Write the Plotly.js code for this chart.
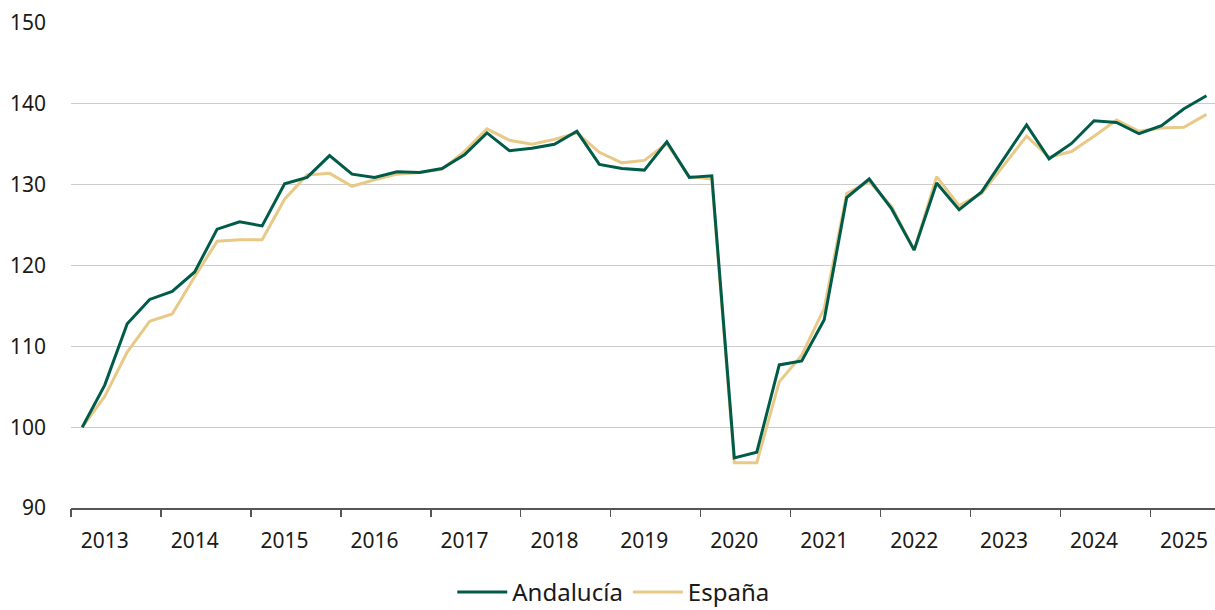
<!DOCTYPE html>
<html>
<head>
<meta charset="utf-8">
<script src="https://cdn.plot.ly/plotly-3.0.1.min.js"></script>
<style>html,body{margin:0;padding:0;background:#fff}#chart{width:1215px;height:610px}</style>
</head>
<body>
<div id="chart"></div>
<script>
// Quarterly index (2013 Q1 = 100), 2013 Q1 .. 2025 Q3
const startYear = 2013;
const years = [2013,2014,2015,2016,2017,2018,2019,2020,2021,2022,2023,2024,2025];
const yearLabels = years.map(String);
const andalucia = [
  100.0, 105.2, 112.8, 115.8,
  116.8, 119.2, 124.5, 125.4,
  124.9, 130.1, 130.9, 133.6,
  131.3, 130.9, 131.6, 131.5,
  132.0, 133.7, 136.4, 134.2,
  134.5, 135.0, 136.6, 132.5,
  132.0, 131.8, 135.3, 130.9,
  131.1, 96.2, 96.9, 107.7,
  108.2, 113.3, 128.4, 130.7,
  127.0, 121.9, 130.2, 126.9,
  129.1, 133.2, 137.4, 133.2,
  135.1, 137.9, 137.7, 136.3,
  137.3, 139.4, 141.0
];
const espana = [
  100.0, 103.8, 109.3, 113.1,
  114.0, 118.6, 123.0, 123.2,
  123.2, 128.2, 131.2, 131.4,
  129.8, 130.6, 131.3, 131.5,
  131.9, 134.1, 136.9, 135.5,
  135.0, 135.6, 136.4, 134.0,
  132.7, 133.0, 135.1, 131.0,
  130.7, 95.6, 95.6, 105.6,
  108.9, 114.7, 128.9, 130.4,
  127.3, 121.9, 131.0, 127.4,
  128.9, 132.4, 136.0, 133.4,
  134.1, 136.0, 138.0, 136.6,
  137.0, 137.1, 138.7
];
const xq = andalucia.map((_, i) => startYear + Math.floor(i / 4) + ((i % 4) + 0.5) / 4);

const FONT = '"Noto Sans", "Open Sans", sans-serif';
const traces = [
  {x: xq, y: espana, name: 'España', type: 'scatter', mode: 'lines',
   line: {color: '#e8c987', width: 3}},
  {x: xq, y: andalucia, name: 'Andalucía', type: 'scatter', mode: 'lines',
   line: {color: '#005c49', width: 3}}
];
const xr = [2013, 2025.72];
const layout = {
  width: 1215, height: 610,
  margin: {l: 71, r: 0, t: 23, b: 102, autoexpand: false},
  paper_bgcolor: '#fff', plot_bgcolor: '#fff',
  font: {family: FONT, color: '#1a1a1a', size: 21},
  showlegend: true,
  legend: {orientation: 'h', x: 0.474, xanchor: 'center', y: -0.174, yanchor: 'middle',
           traceorder: 'reversed', itemwidth: 50, font: {size: 24, family: FONT}},
  xaxis: {range: xr, tickmode: 'array', tickvals: years.map(y => y + 0.375), ticktext: yearLabels,
          ticks: '', showgrid: false, zeroline: false, showline: true, linecolor: '#555', linewidth: 1.5,
          ticklabelstandoff: 13, tickfont: {size: 21}},
  xaxis2: {range: xr, overlaying: 'x', tickmode: 'array', tickvals: years, ticks: 'outside',
           ticklen: 8, tickwidth: 1.5, tickcolor: '#555', showticklabels: false, showgrid: false,
           zeroline: false, side: 'bottom', anchor: 'y'},
  yaxis: {range: [90, 150], tickmode: 'array', tickvals: [90,100,110,120,130,140,150],
          showgrid: true, gridcolor: '#cccccc', gridwidth: 1.2, zeroline: false, showline: false,
          ticks: '', ticklabelstandoff: 24, tickfont: {size: 21}}
};
// helper trace to activate the tick-mark axis
traces.push({x: [xr[0]], y: [null], xaxis: 'x2', yaxis: 'y', showlegend: false, hoverinfo: 'skip', mode: 'lines'});
Plotly.newPlot('chart', traces, layout, {staticPlot: true}).then(gd => {
  gd.querySelectorAll('.legend .legendlines path').forEach(p => p.setAttribute('d', 'M5,0h50'));
});
</script>
</body>
</html>
